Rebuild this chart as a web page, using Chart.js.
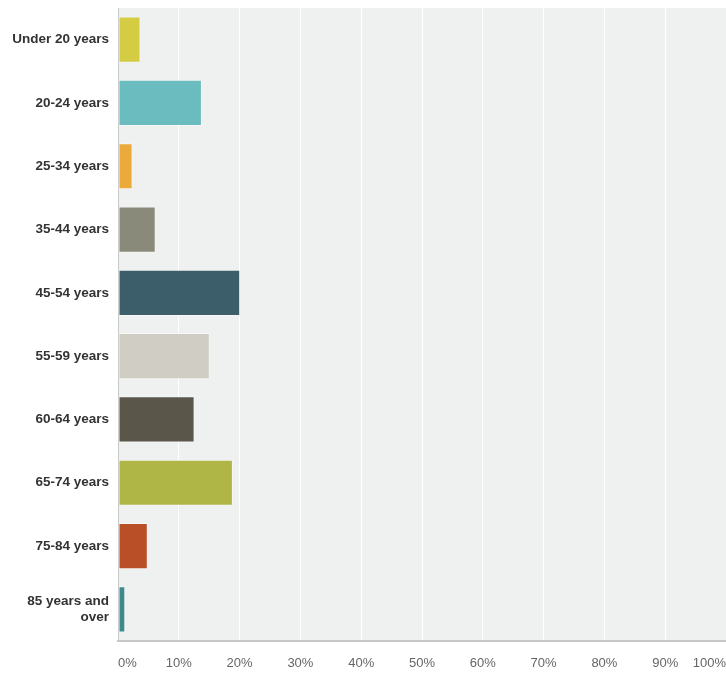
<!DOCTYPE html>
<html>
<head>
<meta charset="utf-8">
<script src="https://cdn.jsdelivr.net/npm/chart.js@4/dist/chart.umd.min.js"></script>
<style>
  html, body { margin: 0; padding: 0; background: #fff; }
  #wrap { width: 726px; height: 675px; }
</style>
</head>
<body>
<div id="wrap"><canvas id="chart"></canvas></div>
<script>
// data
const categories = [
    'Under 20 years', '20-24 years', '25-34 years', '35-44 years', '45-54 years',
    '55-59 years', '60-64 years', '65-74 years', '75-84 years', ['85 years and', 'over']
];
const values = [3.7, 13.8, 2.4, 6.2, 20.1, 15.1, 12.6, 18.9, 4.9, 1.2];
const barColors = [
    '#d4cd44', '#6abcbe', '#eaab3c', '#8a8a7a', '#3c5e6b',
    '#d0cdc4', '#5a574a', '#afb646', '#b84f27', '#3c8a8e'
];
const tickValues = [0, 10, 20, 30, 40, 50, 60, 70, 80, 90, 100];

// sfondo area grafico
const plotBg = {
    id: 'plotBg',
    beforeDraw(chart) {
        const a = chart.chartArea;
        const c = chart.ctx;
        c.save();
        c.fillStyle = '#eff0f0';
        c.fillRect(a.left, a.top, a.right - a.left, a.bottom - a.top);
        c.restore();
    }
};

const ctx = document.getElementById('chart').getContext('2d');
new Chart(ctx, {
    type: 'bar',
    data: {
        labels: categories,
        datasets: [{
            data: values,
            backgroundColor: barColors,
            borderColor: 'rgba(255,255,255,0.45)',
            borderWidth: 1,
            borderSkipped: false,
            barPercentage: 0.73,
            categoryPercentage: 1
        }]
    },
    options: {
        indexAxis: 'y',
        responsive: true,
        maintainAspectRatio: false,
        animation: false,
        layout: { padding: { top: 8, right: 0, left: 0, bottom: 0 } },
        plugins: { legend: { display: false }, tooltip: { enabled: false } },
        scales: {
            x: {
                min: 0,
                max: 100,
                afterBuildTicks: s => { s.ticks = tickValues.map(v => ({ value: v })); },
                afterFit: s => { s.height = 34; s.paddingLeft = 0; s.paddingRight = 0; },
                grid: { color: '#ffffff', lineWidth: 1, drawTicks: false },
                border: { color: '#c8c8c8', width: 2 },
                ticks: {
                    align: 'inner',
                    padding: 15,
                    color: '#666',
                    font: { family: 'Liberation Sans', size: 13 },
                    callback: v => v + '%'
                }
            },
            y: {
                afterFit: s => { s.width = 118; s.paddingTop = 0; s.paddingBottom = 0; },
                grid: { display: false },
                border: { color: '#c8c8c8', width: 1 },
                ticks: {
                    padding: 1,
                    color: '#333',
                    font: { family: 'Liberation Sans', size: 13.5, weight: 'bold' }
                }
            }
        }
    },
    plugins: [plotBg]
});
</script>
</body>
</html>
